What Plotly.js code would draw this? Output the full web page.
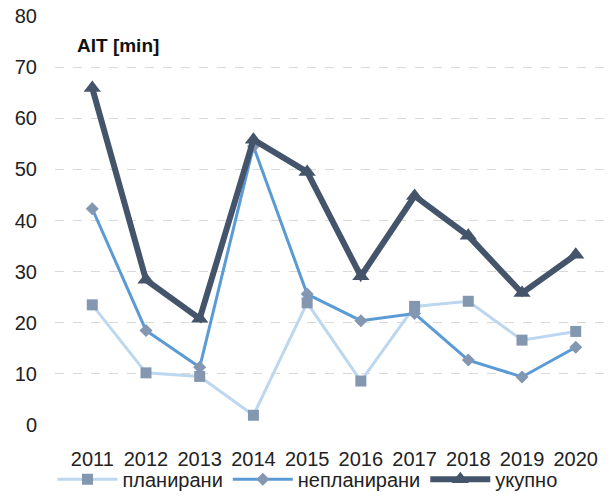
<!DOCTYPE html>
<html><head><meta charset="utf-8">
<script src="https://cdn.plot.ly/plotly-3.0.1.min.js"></script>
<style>body{margin:0;background:#fff}#c{width:613px;height:500px}</style>
</head><body><div id="c"></div>
<script>
const years = ['2011','2012','2013','2014','2015','2016','2017','2018','2019','2020'];
const planirani = [23.5, 10.2, 9.5, 1.9, 23.9, 8.6, 23.2, 24.2, 16.6, 18.3];
const neplanirani = [42.3, 18.5, 11.3, 54.5, 25.6, 20.4, 21.8, 12.7, 9.4, 15.2];
const ukupno = [65.9, 28.4, 20.8, 55.8, 49.5, 29.1, 44.8, 37.0, 25.8, 33.3];
const yTicks = [0,10,20,30,40,50,60,70,80];

const font = {family: 'Liberation Sans, Arial, sans-serif', size: 20, color: '#222'};
const traces = [
  {x: years, y: planirani, name: 'планирани', mode: 'lines+markers', type: 'scatter',
   line: {color: '#BDD7EE', width: 3}, marker: {symbol: 'square', size: 11, color: '#8497B0'}},
  {x: years, y: neplanirani, name: 'непланирани', mode: 'lines+markers', type: 'scatter',
   line: {color: '#5B9BD5', width: 3}, marker: {symbol: 'diamond', size: 10, color: '#8497B0'}},
  {x: years, y: ukupno, name: 'укупно', mode: 'lines+markers', type: 'scatter',
   line: {color: '#44546A', width: 6}, marker: {symbol: 'triangle-up', size: 15, color: '#44546A'}}
];
const layout = {
  width: 613, height: 500,
  margin: {l: 55, r: 0, t: 16, b: 74.5},
  paper_bgcolor: '#fff', plot_bgcolor: '#fff',
  font: font,
  showlegend: true,
  legend: {orientation: 'h', x: 0.4525, xanchor: 'center', y: -0.1806, yanchor: 'bottom',
           bgcolor: 'rgba(0,0,0,0)',
           font: {family: font.family, size: 20, color: '#222'}, itemwidth: 60},
  xaxis: {type: 'category', showgrid: false, zeroline: false, showline: false,
          ticks: '', tickfont: {size: 20}, automargin: false, ticklabelstandoff: 20},
  yaxis: {range: [0, 80], tickvals: yTicks, showgrid: true, gridcolor: '#d9d9d9',
          griddash: 'dash', gridwidth: 1, zeroline: false, showline: false, ticks: '',
          tickfont: {size: 20}, automargin: false, ticklabelstandoff: 17},
  annotations: [{text: '<b>AIT [min]</b>', xref: 'paper', yref: 'paper', x: 0.035, y: 0.928,
                 xanchor: 'left', yanchor: 'middle', showarrow: false,
                 font: {family: font.family, size: 19, color: '#111'}}]
};
Plotly.newPlot('c', traces, layout, {displayModeBar: false, staticPlot: true});
</script></body></html>
